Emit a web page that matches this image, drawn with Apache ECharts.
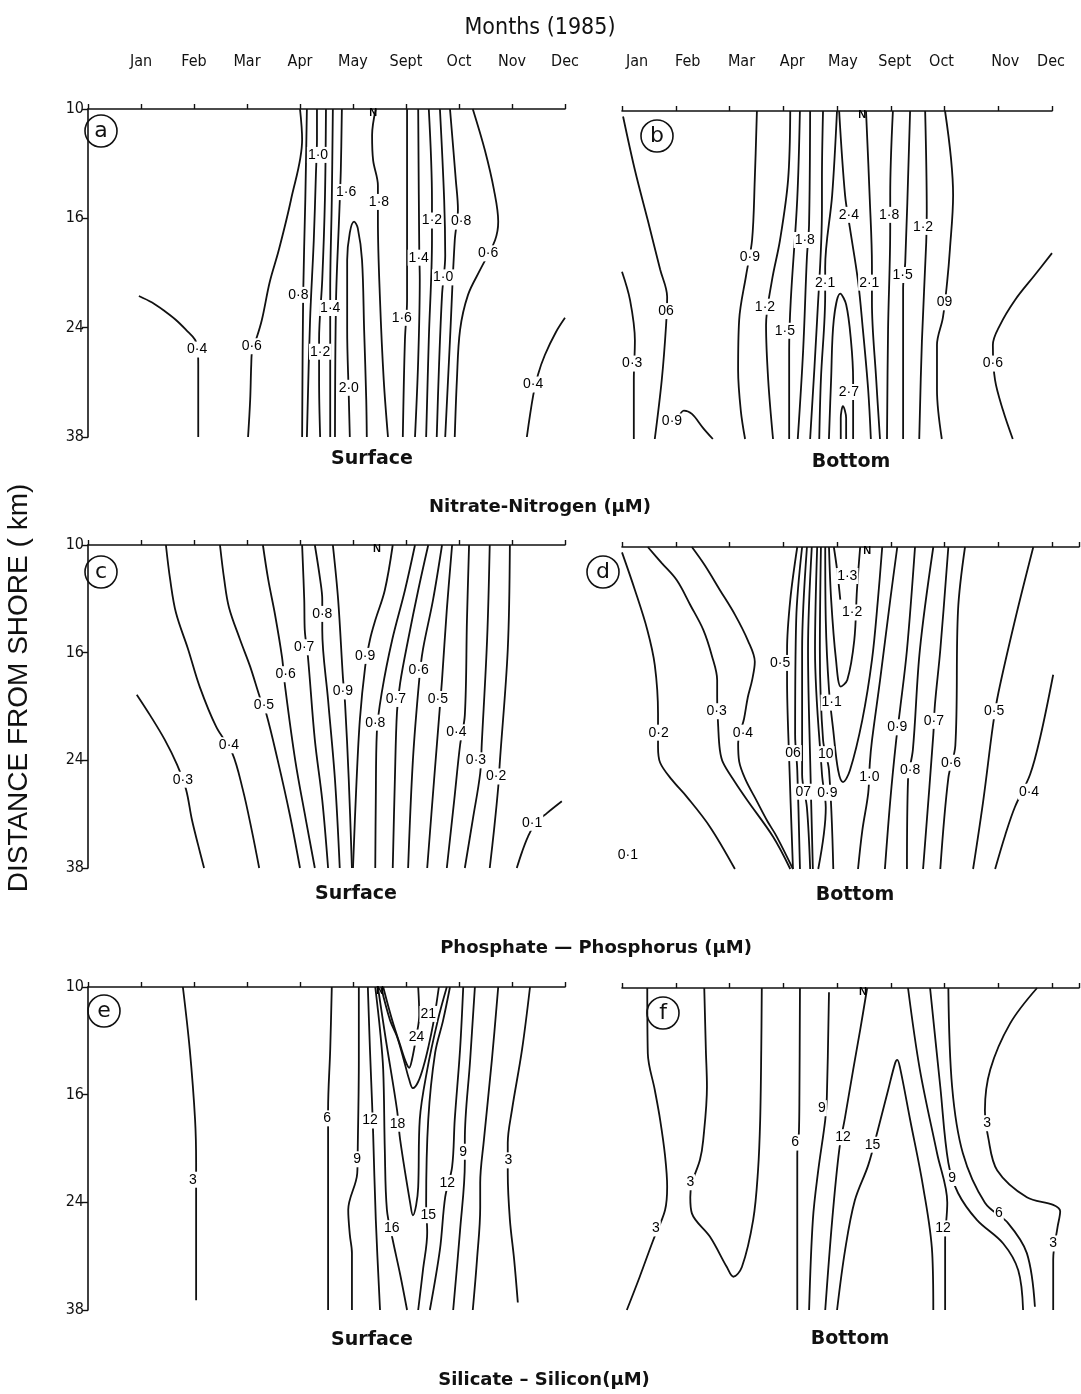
<!DOCTYPE html>
<html><head><meta charset="utf-8">
<script src="https://cdn.jsdelivr.net/npm/echarts/dist/echarts.min.js"></script>
<style>html,body{margin:0;padding:0;background:#fff}#c{width:1081px;height:1394px}</style>
</head><body><div id="c"></div>
<script>
// ---- tick labels ----
const months = ['Jan','Feb','Mar','Apr','May','Sept','Oct','Nov','Dec'];
const stations = ['10','16','24','38'];

// ---- contour lines: [monthPosition, stationIndex] ----
// (a) Nitrate surface
const aLines = [
 [[-0.04,1.71],[0.21,1.77],[0.45,1.85],[0.66,1.93],[0.85,2.02],[1.02,2.11],[1.07,2.2],[1.08,2.34],[1.08,2.66],[1.08,3.0]],
 [[3.0,0],[3.04,0.28],[2.83,0.83],[2.6,1.29],[2.43,1.58],[2.28,1.93],[2.17,2.11],[2.1,2.2],[2.08,2.34],[2.06,2.66],[2.02,3.0]],
 [[3.13,0],[3.1,0.83],[3.06,1.7],[3.04,3.0]],
 [[3.32,0],[3.32,0.28],[3.3,0.6],[3.26,1.2],[3.19,1.93],[3.13,3.0]],
 [[3.49,0],[3.47,0.83],[3.42,1.56],[3.36,2.11],[3.36,2.48],[3.38,3.0]],
 [[3.62,0],[3.6,0.83],[3.57,1.66],[3.57,2.11],[3.57,3.0]],
 [[3.79,0],[3.77,0.56],[3.74,0.97],[3.68,1.75],[3.66,3.0]],
 [[3.94,3.0],[3.92,2.62],[3.89,2.02],[3.89,1.38],[3.94,1.13],[4.02,1.03],[4.09,1.09],[4.17,1.38],[4.21,2.02],[4.25,2.66],[4.26,3.0]],
 [[4.43,0],[4.36,0.24],[4.38,0.47],[4.47,0.7],[4.47,1.02],[4.51,1.75],[4.58,2.48],[4.66,3.0]],
 [[5.02,0],[5.02,1.75],[4.98,2.11],[4.94,3.0]],
 [[5.23,0],[5.25,1.29],[5.26,1.56],[5.23,2.3],[5.17,3.0]],
 [[5.43,0],[5.49,0.83],[5.49,1.2],[5.43,2.11],[5.38,3.0]],
 [[5.64,0],[5.72,0.83],[5.74,1.34],[5.68,1.7],[5.62,2.39],[5.58,3.0]],
 [[5.83,0],[5.94,0.65],[5.98,0.92],[5.92,1.2],[5.83,2.11],[5.74,3.0]],
 [[6.26,0],[6.49,0.38],[6.66,0.74],[6.74,1.03],[6.68,1.2],[6.4,1.47],[6.17,1.7],[6.02,2.02],[5.96,2.48],[5.92,3.0]],
 [[8.0,1.91],[7.83,2.04],[7.62,2.25],[7.49,2.43],[7.4,2.62],[7.28,3.0]]
];
const aLabels = [[1.06,2.2,'0·4'],[2.09,2.17,'0·6'],[2.97,1.7,'0·8'],[3.34,0.42,'1·0'],[3.38,2.22,'1·2'],[3.57,1.82,'1·4'],[3.87,0.76,'1·6'],[3.92,2.55,'2·0'],[4.49,0.85,'1·8'],[4.92,1.91,'1·6'],[5.24,1.36,'1·4'],[5.49,1.02,'1·2'],[5.7,1.54,'1·0'],[6.04,1.03,'0·8'],[6.55,1.32,'0·6'],[7.4,2.52,'0·4']];

// (b) Nitrate bottom
const bLines = [
 [[0.02,0.05],[0.24,0.54],[0.48,1.0],[0.71,1.45],[0.84,1.7],[0.82,1.96],[0.74,2.46],[0.61,3.0]],
 [[0,1.47],[0.15,1.73],[0.24,2.1],[0.22,2.46],[0.22,3.0]],
 [[1.04,2.83],[1.15,2.74],[1.3,2.77],[1.51,2.9],[1.69,3.0]],
 [[2.51,0],[2.47,0.63],[2.42,1.18],[2.31,1.5],[2.18,1.91],[2.16,2.37],[2.21,2.74],[2.29,3.0]],
 [[3.13,0],[3.09,0.63],[2.94,1.18],[2.79,1.55],[2.68,1.96],[2.72,2.46],[2.81,3.0]],
 [[3.31,0],[3.26,0.81],[3.14,1.73],[3.11,2.19],[3.11,3.0]],
 [[3.5,0],[3.48,1.04],[3.44,1.34],[3.37,2.19],[3.27,3.0]],
 [[3.74,0],[3.72,0.63],[3.72,0.89],[3.63,1.91],[3.5,3.0]],
 [[4.0,0],[3.91,0.77],[3.78,1.43],[3.78,1.68],[3.7,2.46],[3.67,3.0]],
 [[3.85,3.0],[3.89,2.46],[3.94,1.91],[4.06,1.67],[4.17,1.77],[4.26,2.1],[4.3,2.46],[4.3,3.0]],
 [[4.07,3.0],[4.07,2.81],[4.11,2.7],[4.17,2.81],[4.17,3.0]],
 [[4.04,0],[4.15,0.77],[4.24,1.07],[4.39,1.55],[4.48,1.99],[4.58,2.55],[4.63,3.0]],
 [[4.54,0],[4.61,0.81],[4.65,1.41],[4.65,1.75],[4.73,2.46],[4.8,3.0]],
 [[5.04,0],[4.99,0.77],[4.99,1.07],[4.95,2.0],[4.93,3.0]],
 [[5.36,0],[5.27,1.38],[5.23,1.62],[5.23,3.0]],
 [[5.64,0],[5.67,0.92],[5.66,1.2],[5.58,2.1],[5.53,3.0]],
 [[6.01,0],[6.16,0.77],[6.1,1.27],[6.05,1.56],[5.97,1.89],[5.86,2.14],[5.86,2.55],[5.95,3.0]],
 [[8.0,1.3],[7.68,1.5],[7.31,1.73],[7.03,1.96],[6.9,2.14],[6.94,2.46],[7.09,2.74],[7.27,3.0]]
];
const bLabels = [[0.82,1.83,'06'],[0.19,2.31,'0·3'],[0.93,2.84,'0·9'],[2.38,1.34,'0·9'],[2.66,1.79,'1·2'],[3.03,2.01,'1·5'],[3.4,1.18,'1·8'],[3.78,1.57,'2·1'],[4.22,2.57,'2·7'],[4.22,0.95,'2·4'],[4.6,1.57,'2·1'],[4.97,0.95,'1·8'],[5.22,1.5,'1·5'],[5.6,1.06,'1·2'],[6.0,1.75,'09'],[6.9,2.31,'0·6']];

// (c) Phosphate surface
const cLines = [
 [[-0.08,1.39],[0.17,1.58],[0.45,1.81],[0.68,2.04],[0.85,2.27],[0.96,2.55],[1.08,2.79],[1.19,3.0]],
 [[0.47,0],[0.55,0.32],[0.66,0.63],[0.89,0.97],[1.11,1.32],[1.42,1.69],[1.72,1.93],[1.92,2.27],[2.09,2.65],[2.23,3.0]],
 [[1.49,0],[1.57,0.32],[1.66,0.58],[1.87,0.88],[2.06,1.13],[2.26,1.44],[2.36,1.56],[2.58,2.0],[2.81,2.51],[3.0,3.0]],
 [[2.3,0],[2.4,0.32],[2.53,0.65],[2.66,1.04],[2.72,1.32],[2.91,2.0],[3.11,2.55],[3.28,3.0]],
 [[3.04,0],[3.08,0.51],[3.09,0.79],[3.15,1.04],[3.28,1.81],[3.42,2.37],[3.53,3.0]],
 [[3.28,0],[3.38,0.32],[3.42,0.51],[3.42,0.79],[3.53,1.44],[3.66,2.18],[3.75,3.0]],
 [[3.62,0],[3.72,0.51],[3.81,1.23],[3.85,1.47],[3.92,2.18],[3.98,3.0]],
 [[4.75,0],[4.6,0.42],[4.42,0.7],[4.32,0.88],[4.23,1.13],[4.13,1.62],[4.06,2.27],[4.0,3.0]],
 [[5.17,0],[4.98,0.42],[4.74,0.88],[4.55,1.35],[4.45,1.74],[4.43,2.37],[4.42,3.0]],
 [[5.42,0],[5.23,0.42],[5.04,0.88],[4.89,1.28],[4.83,1.55],[4.79,2.18],[4.75,3.0]],
 [[5.68,0],[5.51,0.51],[5.32,0.97],[5.25,1.25],[5.13,2.0],[5.04,3.0]],
 [[5.87,0],[5.77,0.6],[5.68,1.25],[5.64,1.5],[5.53,2.18],[5.4,3.0]],
 [[6.19,0],[6.15,0.7],[6.11,1.58],[6.02,1.86],[5.91,2.37],[5.77,3.0]],
 [[6.58,0],[6.53,0.88],[6.43,1.84],[6.4,2.12],[6.26,2.55],[6.11,3.0]],
 [[6.96,0],[6.92,0.97],[6.77,2.02],[6.74,2.25],[6.66,2.65],[6.58,3.0]],
 [[7.94,2.38],[7.66,2.49],[7.45,2.58],[7.3,2.71],[7.19,2.85],[7.09,3.0]]
];
const cLabels = [[0.79,2.18,'0·3'],[1.66,1.86,'0·4'],[2.32,1.49,'0·5'],[2.73,1.2,'0·6'],[3.08,0.95,'0·7'],[3.42,0.64,'0·8'],[3.81,1.36,'0·9'],[4.23,1.03,'0·9'],[4.42,1.65,'0·8'],[4.81,1.43,'0·7'],[5.24,1.16,'0·6'],[5.6,1.43,'0·5'],[5.95,1.74,'0·4'],[6.32,2.0,'0·3'],[6.7,2.15,'0·2'],[7.38,2.58,'0·1']];

// (d) Phosphate bottom
const dLines = [
 [[0,0.05],[0.24,0.4],[0.47,0.77],[0.61,1.1],[0.67,1.55],[0.67,1.86],[0.71,2.01],[0.93,2.17],[1.21,2.33],[1.64,2.61],[2.1,3.0]],
 [[0.48,0],[0.74,0.15],[1.02,0.31],[1.27,0.54],[1.51,0.77],[1.67,1.01],[1.77,1.24],[1.77,1.4],[1.79,1.68],[1.82,1.89],[1.88,2.01],[2.1,2.19],[2.33,2.36],[2.81,2.7],[3.13,3.0]],
 [[1.3,0],[1.54,0.17],[1.82,0.4],[2.1,0.63],[2.34,0.87],[2.47,1.07],[2.42,1.24],[2.34,1.4],[2.27,1.6],[2.16,1.83],[2.18,2.0],[2.3,2.17],[2.5,2.36],[2.7,2.55],[2.88,2.7],[3.18,3.0]],
 [[3.26,0],[3.13,0.49],[3.07,0.96],[3.07,1.24],[3.11,1.99],[3.18,3.0]],
 [[3.35,0],[3.24,0.68],[3.22,1.75],[3.26,2.08],[3.31,3.0]],
 [[3.44,0],[3.35,0.96],[3.35,2.12],[3.44,2.43],[3.5,3.0]],
 [[3.53,0],[3.46,0.96],[3.5,1.99],[3.55,3.0]],
 [[3.63,0],[3.59,0.96],[3.72,2.12],[3.79,2.43],[3.65,3.0]],
 [[3.7,0],[3.68,0.96],[3.74,1.8],[3.85,2.08],[3.93,3.0]],
 [[3.78,0],[3.79,0.68],[3.85,1.33],[3.93,1.71],[4.02,2.08],[4.11,2.19],[4.24,2.08],[4.47,1.61],[4.65,1.05],[4.76,0.49],[4.84,0]],
 [[3.85,0],[3.89,0.49],[3.98,1.05],[4.07,1.3],[4.19,1.24],[4.32,0.87],[4.37,0.4],[4.43,0]],
 [[3.94,0],[4.0,0.21],[4.06,0.49]],
 [[5.12,0],[4.99,0.49],[4.8,1.24],[4.65,1.8],[4.61,2.01],[4.58,2.29],[4.47,2.64],[4.39,3.0]],
 [[5.45,0],[5.3,0.96],[5.17,1.52],[5.1,1.8],[4.99,2.36],[4.89,3.0]],
 [[5.79,0],[5.54,0.96],[5.41,1.89],[5.32,2.17],[5.3,3.0]],
 [[6.07,0],[5.92,0.96],[5.82,1.47],[5.79,1.75],[5.6,3.0]],
 [[6.38,0],[6.25,0.59],[6.2,1.85],[6.07,2.15],[5.92,3.0]],
 [[7.65,0],[7.31,0.68],[7.0,1.36],[6.9,1.66],[6.72,2.36],[6.53,3.0]],
 [[8.02,1.19],[7.78,1.77],[7.59,2.12],[7.31,2.42],[7.13,2.68],[6.94,3.0]]
];
const dLabels = [[0.68,1.73,'0·2'],[1.76,1.53,'0·3'],[2.25,1.73,'0·4'],[2.94,1.08,'0·5'],[3.18,1.92,'06'],[3.37,2.28,'07'],[3.82,2.29,'0·9'],[3.79,1.93,'10'],[3.9,1.45,'1·1'],[4.28,0.61,'1·2'],[4.19,0.27,'1·3'],[4.6,2.14,'1·0'],[5.12,1.68,'0·9'],[5.36,2.08,'0·8'],[5.8,1.62,'0·7'],[6.12,2.01,'0·6'],[6.92,1.53,'0·5'],[7.57,2.28,'0·4'],[0.11,2.87,'0·1']];

// (e) Silicate surface
const eLines = [
 [[0.79,0],[0.92,0.58],[1.02,1.23],[1.04,1.63],[1.04,1.91],[1.04,2.91]],
 [[3.6,0],[3.57,0.58],[3.53,1.14],[3.53,1.42],[3.53,3.0]],
 [[4.11,0],[4.11,0.68],[4.09,1.49],[4.08,1.73],[3.91,2.07],[3.94,2.3],[3.98,2.47],[3.98,3.0]],
 [[4.28,0],[4.32,0.58],[4.36,1.08],[4.38,1.36],[4.43,2.16],[4.51,3.0]],
 [[4.42,0],[4.51,0.4],[4.57,0.77],[4.6,1.51],[4.64,2.07],[4.75,2.35],[4.89,2.67],[5.02,3.0]],
 [[4.47,0],[4.62,0.49],[4.83,1.14],[4.89,1.42],[5.08,2.01],[5.13,2.12],[5.19,2.03],[5.23,1.86],[5.26,1.23],[5.4,0.77],[5.6,0.31],[5.77,0]],
 [[4.53,0],[4.7,0.31],[4.83,0.46],[4.96,0.68],[5.06,0.86],[5.13,0.94],[5.23,0.88],[5.34,0.72],[5.43,0.54],[5.51,0.35],[5.57,0.17],[5.62,0]],
 [[4.57,0],[4.74,0.31],[4.89,0.54],[5.0,0.7],[5.06,0.75],[5.11,0.68],[5.19,0.47],[5.25,0.26],[5.23,0]],
 [[5.83,0],[5.7,0.31],[5.55,0.61],[5.42,1.23],[5.38,2.01],[5.4,2.28],[5.32,2.63],[5.23,3.0]],
 [[6.08,0],[6.02,0.58],[5.92,1.23],[5.87,1.67],[5.74,1.95],[5.64,2.44],[5.45,3.0]],
 [[6.3,0],[6.21,0.68],[6.11,1.42],[6.11,1.63],[6.02,2.26],[5.89,3.0]],
 [[6.74,0],[6.62,0.68],[6.47,1.42],[6.4,1.82],[6.4,2.05],[6.34,2.53],[6.26,3.0]],
 [[7.34,0],[7.19,0.58],[7.0,1.14],[6.92,1.45],[6.92,1.73],[6.96,2.16],[7.04,2.53],[7.11,2.93]]
];
const eLabels = [[0.98,1.79,'3'],[3.51,1.22,'6'],[4.08,1.6,'9'],[4.32,1.24,'12'],[4.73,2.24,'16'],[4.84,1.27,'18'],[5.42,0.25,'21'],[5.2,0.47,'24'],[5.42,2.12,'15'],[5.78,1.82,'12'],[6.08,1.53,'9'],[6.93,1.61,'3']];

// (f) Silicate bottom
const fLines = [
 [[0.47,0],[0.48,0.61],[0.61,0.95],[0.71,1.23],[0.8,1.56],[0.84,1.85],[0.8,2.07],[0.58,2.35],[0.33,2.69],[0.09,3.0]],
 [[1.53,0],[1.56,0.58],[1.58,0.92],[1.51,1.42],[1.45,1.6],[1.3,1.82],[1.27,1.95],[1.3,2.1],[1.64,2.32],[1.95,2.6],[2.07,2.69],[2.23,2.6],[2.44,2.16],[2.53,1.7],[2.57,1.23],[2.59,0.58],[2.6,0]],
 [[3.31,0],[3.3,1.0],[3.29,1.35],[3.26,1.54],[3.26,3.0]],
 [[3.85,0.04],[3.81,1.02],[3.78,1.23],[3.65,1.7],[3.55,2.16],[3.48,3.0]],
 [[4.56,0],[4.43,0.39],[4.3,0.76],[4.15,1.2],[4.04,1.51],[3.91,2.16],[3.78,3.0]],
 [[4.0,3.0],[4.15,2.44],[4.33,1.98],[4.58,1.65],[4.76,1.32],[4.95,0.95],[5.08,0.7],[5.12,0.67],[5.17,0.74],[5.36,1.23],[5.6,1.85],[5.77,2.47],[5.79,3.0]],
 [[5.32,0],[5.54,0.76],[5.86,1.54],[6.05,2.0],[6.01,2.35],[6.01,3.0]],
 [[5.73,0],[5.92,0.92],[6.07,1.63],[6.25,1.91],[6.6,2.16],[7.09,2.38],[7.37,2.63],[7.46,3.0]],
 [[6.07,0],[6.14,0.92],[6.34,1.54],[6.75,2.0],[7.18,2.19],[7.53,2.47],[7.68,2.97]],
 [[7.72,0],[7.22,0.33],[6.85,0.76],[6.75,1.14],[6.81,1.39],[6.98,1.7],[7.53,1.95],[8.02,2.02],[8.15,2.08],[8.1,2.23],[8.02,2.53],[8.02,3.0]]
];
const fLabels = [[0.63,2.24,'3'],[1.27,1.81,'3'],[3.22,1.44,'6'],[3.72,1.12,'9'],[4.11,1.39,'12'],[4.66,1.46,'15'],[5.97,2.24,'12'],[6.14,1.77,'9'],[7.01,2.1,'6'],[6.79,1.26,'3'],[8.02,2.38,'3']];

// small "N" marks on the month axis of each panel
const nMarkX = [4.38, 4.47, 4.45, 4.56, 4.51, 4.48];

// ---- layout (pixels, not data) ----
const layout = [
 {lines:aLines, labels:aLabels, left:88,  top:109, width:477, height:328, xmin:-1, xmax:8,   yAxis:true,  months:true,  margin:39},
 {lines:bLines, labels:bLabels, left:622, top:111, width:430, height:328, xmin:0,  xmax:8,   yAxis:false, months:true,  margin:41},
 {lines:cLines, labels:cLabels, left:88,  top:545, width:477, height:323, xmin:-1, xmax:8,   yAxis:true,  months:false, margin:8},
 {lines:dLines, labels:dLabels, left:622, top:547, width:457, height:322, xmin:0,  xmax:8.5, yAxis:false, months:false, margin:8},
 {lines:eLines, labels:eLabels, left:88,  top:987, width:477, height:323, xmin:-1, xmax:8,   yAxis:true,  months:false, margin:8},
 {lines:fLines, labels:fLabels, left:622, top:988, width:457, height:322, xmin:0,  xmax:8.5, yAxis:false, months:false, margin:8}
];
// horizontal nudge (px) of the typed month names over the right-hand panels
const rightMonthNudge = [15, 12, 12, 9, 6, 4, -3, 7, -1];

const ink = '#111';
const condFont = "'Liberation Sans Narrow','DejaVu Sans Condensed','Liberation Sans',sans-serif";
const headFont = "'DejaVu Sans','Liberation Sans',sans-serif";
const grid = [], xAxis = [], yAxis = [], series = [];

const monthRich = {};
rightMonthNudge.forEach((n, k) => {
  monthRich['m' + k] = {fontSize:16, color:ink, fontFamily:condFont,
    padding: n >= 0 ? [0, 0, 0, 2 * n] : [0, -2 * n, 0, 0]};
});

layout.forEach((p, i) => {
  grid.push({left:p.left, top:p.top, width:p.width, height:p.height, containLabel:false, outerBoundsMode:'none'});
  const isRight = p.left > 300;
  xAxis.push({
    type:'value', gridIndex:i, position:'top', min:p.xmin, max:p.xmax, interval:1,
    axisLine:{show:true, onZero:false, lineStyle:{color:ink, width:1.6}},
    axisTick:{show:true, inside:false, length:5, lineStyle:{color:ink, width:1.4}},
    splitLine:{show:false},
    axisLabel:{show:p.months, interval:0, margin:p.margin, fontSize:16, color:ink, fontFamily:condFont,
      showMinLabel:true, showMaxLabel:true, hideOverlap:false, rich: isRight ? monthRich : undefined,
      formatter: v => {
        if (!(v >= 0 && Number.isInteger(v) && months[v])) return '';
        return isRight ? '{m' + v + '|' + months[v] + '}' : months[v];
      }}
  });
  yAxis.push({
    type:'value', gridIndex:i, inverse:true, min:0, max:3, interval:1, show:p.yAxis,
    axisLine:{show:true, onZero:false, lineStyle:{color:ink, width:1.6}},
    axisTick:{show:true, length:6, lineStyle:{color:ink, width:1.4}},
    splitLine:{show:false},
    axisLabel:{margin:4, fontSize:16, color:ink, fontFamily:condFont, formatter: v => stations[v] || ''}
  });
  p.lines.forEach(pts => {
    series.push({type:'line', xAxisIndex:i, yAxisIndex:i, data:pts, smooth:0.35, symbol:'none',
      clip:false, silent:true, z:2, lineStyle:{color:ink, width:1.8}});
  });
  series.push({type:'scatter', xAxisIndex:i, yAxisIndex:i, z:10, silent:true,
    symbolSize:1, itemStyle:{color:'#fff', opacity:1},
    data:p.labels.map(l => ({value:[l[0], l[1]], name:l[2]})),
    label:{show:true, position:'inside', formatter:'{b}', fontSize:14, color:'#000', opacity:1,
      fontFamily:"'Liberation Sans',sans-serif", backgroundColor:'#fff', padding:[1,1]},
    labelLayout:{hideOverlap:false}});
  series.push({type:'scatter', xAxisIndex:i, yAxisIndex:i, z:11, silent:true,
    symbolSize:1, itemStyle:{color:'#fff', opacity:1},
    data:[{value:[nMarkX[i], 0.035], name:'N'}],
    label:{show:true, position:'inside', formatter:'{b}', fontSize:11, fontWeight:'bold', color:'#000', opacity:1,
      fontFamily:"'Liberation Sans',sans-serif"}});
});

const circles = [['a',101,131],['b',657,136],['c',101,572],['d',603,572],['e',104,1011],['f',663,1013]];
const graphic = [];
circles.forEach(c => {
  graphic.push({type:'circle', shape:{cx:c[1], cy:c[2], r:16}, style:{fill:'none', stroke:ink, lineWidth:1.6}, silent:true});
  graphic.push({type:'text', x:c[1], y:c[2], silent:true,
    style:{text:c[0], align:'center', verticalAlign:'middle', fontSize:22, fontFamily:headFont, fill:ink}});
});
const heads = [
 ['Months (1985)', 540, 28, 23, 'normal', condFont],
 ['Surface', 372, 459, 19, 'bold', headFont],
 ['Bottom', 851, 462, 19, 'bold', headFont],
 ['Nitrate-Nitrogen (µM)', 540, 507, 18, 'bold', headFont],
 ['Surface', 356, 894, 19, 'bold', headFont],
 ['Bottom', 855, 895, 19, 'bold', headFont],
 ['Phosphate — Phosphorus (µM)', 596, 948, 18, 'bold', headFont],
 ['Surface', 372, 1340, 19, 'bold', headFont],
 ['Bottom', 850, 1339, 19, 'bold', headFont],
 ['Silicate – Silicon(µM)', 544, 1380, 18, 'bold', headFont]
];
heads.forEach(h => graphic.push({type:'text', x:h[1], y:h[2], silent:true,
  style:{text:h[0], align:'center', verticalAlign:'middle', fontSize:h[3], fontWeight:h[4], fontFamily:h[5], fill:ink}}));
graphic.push({type:'text', x:19, y:688, rotation:Math.PI/2, silent:true,
  style:{text:'DISTANCE FROM SHORE ( km)', align:'center', verticalAlign:'middle', fontSize:28,
    fontFamily:"'Liberation Sans',sans-serif", fill:ink}});

const chart = echarts.init(document.getElementById('c'), null, {renderer:'canvas'});
chart.setOption({animation:false, backgroundColor:'#fff', grid, xAxis, yAxis, series, graphic});
</script>
</body></html>
